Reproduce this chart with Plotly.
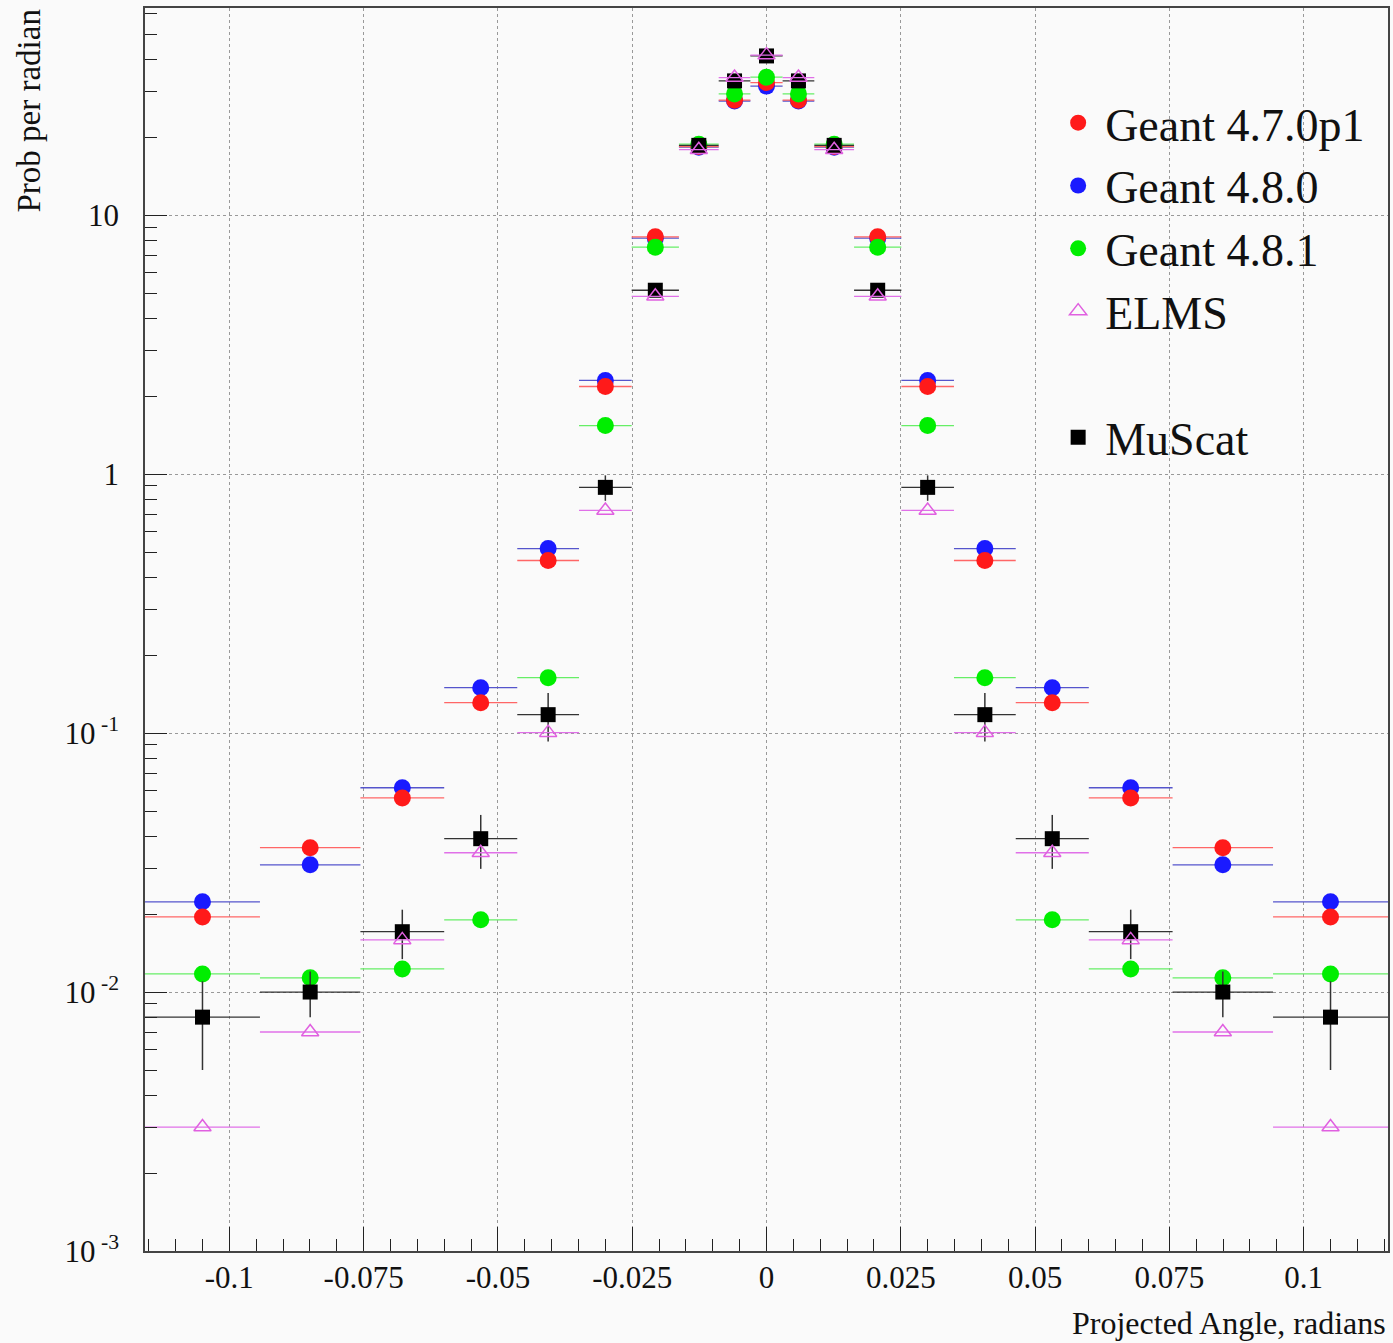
import numpy as np
import plotly.graph_objects as go

# ---------------- data ----------------
bin_edges = [-0.1157, -0.0943, -0.0756, -0.0600, -0.0464, -0.0349, -0.0251, -0.0163, -0.0089, -0.0030,
             0.0030, 0.0089, 0.0163, 0.0251, 0.0349, 0.0464, 0.0600, 0.0756, 0.0943, 0.1157]

geant_470p1 = [0.0195, 0.0361, 0.0562, 0.131, 0.464, 2.18, 8.25, 18.4, 27.8, 32.5,
               27.8, 18.4, 8.25, 2.18, 0.464, 0.131, 0.0562, 0.0361, 0.0195]
geant_480 = [0.0223, 0.0310, 0.0615, 0.1497, 0.516, 2.30, 8.15, 18.3, 27.6, 31.5,
             27.6, 18.3, 8.15, 2.30, 0.516, 0.1497, 0.0615, 0.0310, 0.0223]
geant_481 = [0.01175, 0.01135, 0.01228, 0.0190, 0.1637, 1.54, 7.52, 18.8, 29.4, 34.1,
             29.4, 18.8, 7.52, 1.54, 0.1637, 0.0190, 0.01228, 0.01135, 0.01175]
elms = [0.00301, 0.00701, 0.0159, 0.0345, 0.1004, 0.724, 4.86, 17.9, 34.0, 41.5,
        34.0, 17.9, 4.86, 0.724, 0.1004, 0.0345, 0.0159, 0.00701, 0.00301]
muscat = [0.0080, 0.0100, 0.0171, 0.0391, 0.1178, 0.889, 5.13, 18.6, 33.0, 41.2,
          33.0, 18.6, 5.13, 0.889, 0.1178, 0.0391, 0.0171, 0.0100, 0.0080]
muscat_err = [0.0030, 0.0020, 0.0037, 0.0092, 0.025, 0.10, 0.3, 0.6, 1.0, 1.2,
              1.0, 0.6, 0.3, 0.10, 0.025, 0.0092, 0.0037, 0.0020, 0.0030]

x_tickvals = [-0.1, -0.075, -0.05, -0.025, 0, 0.025, 0.05, 0.075, 0.1]
x_ticktext = ["-0.1", "-0.075", "-0.05", "-0.025", "0", "0.025", "0.05", "0.075", "0.1"]
y_tickvals = [0.001, 0.01, 0.1, 1, 10]
y_ticktext = ["10<sup> -3</sup>", "10<sup> -2</sup>", "10<sup> -1</sup>", "1", "10"]

edges = np.array(bin_edges)
centers = (edges[:-1] + edges[1:]) / 2
halfw = (edges[1:] - edges[:-1]) / 2

FONT = "Liberation Serif"
fig = go.Figure()

def add(y, name, color, ecolor, symbol, size, rank, yerr=None, legend="legend", lw=0):
    fig.add_trace(go.Scatter(
        x=centers, y=y, name=name, mode="markers",
        marker=dict(color=color, symbol=symbol, size=size, line=dict(color=color, width=lw)),
        error_x=dict(type="data", array=halfw, color=ecolor, thickness=1.3, width=0),
        error_y=(dict(type="data", array=yerr, color=ecolor, thickness=1.5, width=0)
                 if yerr is not None else dict(visible=False)),
        legendrank=rank, legend=legend,
    ))

add(geant_480, "Geant 4.8.0", "#1a1aff", "#5555cc", "circle", 17, 2)
add(geant_470p1, "Geant 4.7.0p1", "#ff1a1a", "#ff6666", "circle", 17, 1)
add(geant_481, "Geant 4.8.1", "#00ee00", "#66ee66", "circle", 17, 3)
add(muscat, "MuScat", "#000000", "#333333", "square", 15, 5, yerr=muscat_err, legend="legend2")
add(elms, "ELMS", "#e060e0", "#e070e8", "triangle-up-open", 15, 4, lw=1.5)

minor_y = []
for k in range(-3, 2):
    for m in range(2, 10):
        v = m * 10.0 ** k
        if v < 64:
            minor_y.append(v)

axis_common = dict(showline=True, linecolor="#444", linewidth=1.5, mirror=True,
                   showgrid=True, gridcolor="#999", griddash="dot", gridwidth=1,
                   ticks="inside", tickcolor="#222", tickwidth=1.2,
                   tickfont=dict(family=FONT, size=31, color="#111"), zeroline=False)

fig.update_layout(
    width=1393, height=1343,
    margin=dict(l=145, r=3, t=8, b=92),
    paper_bgcolor="#fafafa", plot_bgcolor="#fafafa",
    font=dict(family=FONT, color="#111"),
    xaxis=dict(range=[-0.1157, 0.1157], tickvals=x_tickvals, ticktext=x_ticktext, ticklen=24,
               minor=dict(ticks="inside", ticklen=12, dtick=0.005, tickcolor="#222", showgrid=False),
               ticklabelstandoff=-2, **axis_common),
    yaxis=dict(type="log", range=[-3, 1.80], tickvals=y_tickvals, ticktext=y_ticktext, ticklen=22,
               minor=dict(ticks="inside", ticklen=12, tickvals=minor_y, tickcolor="#222", showgrid=False),
               ticklabelstandoff=18, **axis_common),
    showlegend=True,
    legend=dict(x=0.729, xanchor="left", y=0.937, yanchor="top", bgcolor="rgba(0,0,0,0)",
                font=dict(family=FONT, size=46, color="#111"), tracegroupgap=0,
                itemsizing="trace", itemwidth=44),
    legend2=dict(x=0.729, xanchor="left", y=0.684, yanchor="top", bgcolor="rgba(0,0,0,0)",
                 font=dict(family=FONT, size=46, color="#111"), itemsizing="trace", itemwidth=44),
    annotations=[
        dict(text="Prob per radian", xref="paper", yref="paper", x=0, y=1, xshift=-117,
             xanchor="center", yanchor="top", textangle=-90, showarrow=False,
             font=dict(family=FONT, size=33, color="#111")),
        dict(text="Projected Angle, radians", xref="paper", yref="paper", x=1, y=0, yshift=-52,
             xanchor="right", yanchor="top", showarrow=False,
             font=dict(family=FONT, size=32, color="#111")),
    ],
)

fig.write_html("out.html")
